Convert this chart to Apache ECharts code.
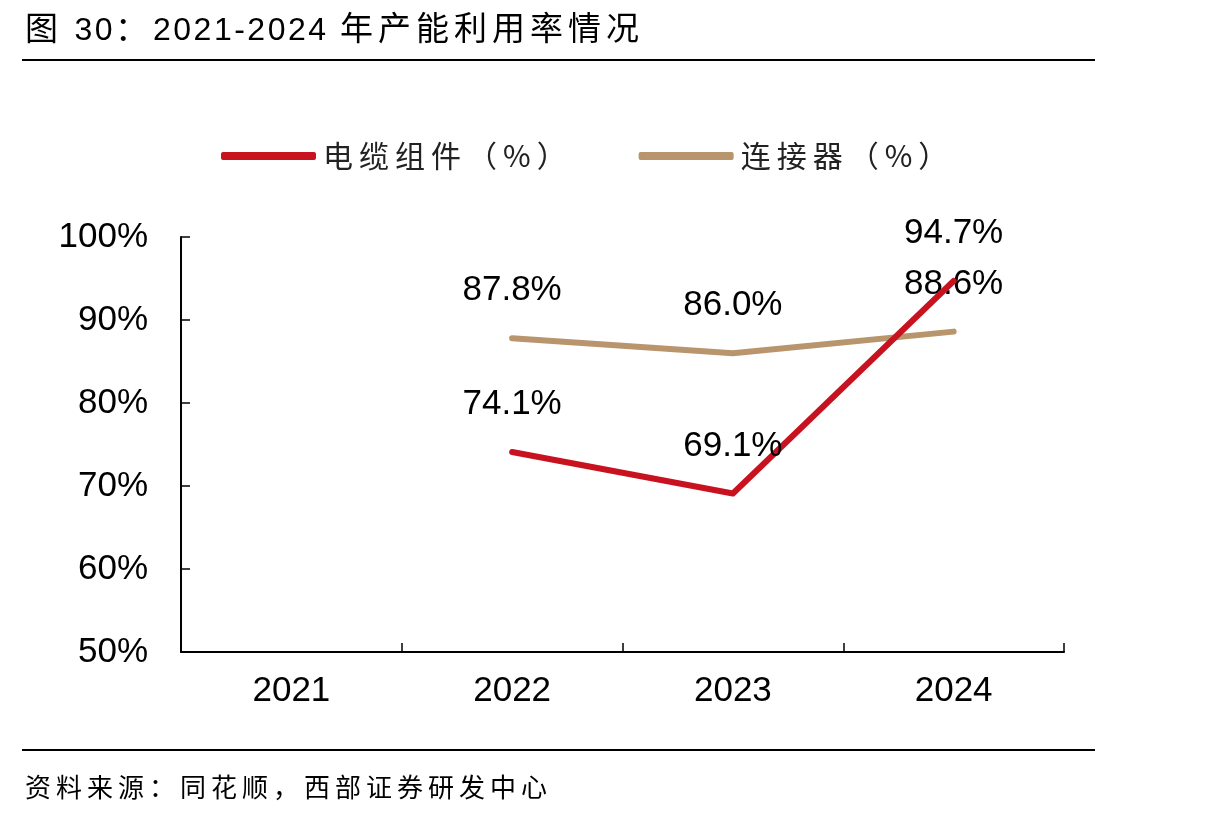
<!DOCTYPE html>
<html>
<head>
    <meta charset="utf-8">
    <title>产能利用率情况</title>
    <script src="https://cdn.jsdelivr.net/npm/echarts@6/dist/echarts.min.js"></script>
    <style type="text/css">
        html, body{
            margin: 0;
            padding: 0;
            background: #fff;
        }
        #wrap{
            position: relative;
            width: 1215px;
            height: 818px;
        }
        #chart{
            position: absolute;
            left: 0;
            top: 0;
            width: 1215px;
            height: 818px;
        }
        .caption{
            position: absolute;
            left: 25px;
            color: #000;
            font-family: "Liberation Sans", "Noto Sans CJK SC", sans-serif;
            white-space: nowrap;
        }
        .cjk{
            font-family: "Noto Sans CJK SC", sans-serif;
            font-size: 33px;
            letter-spacing: 5px;
        }
        .rule{
            position: absolute;
            left: 22px;
            width: 1073px;
            height: 2px;
            background: #000;
        }
    </style>
</head>
<body>
<div id="wrap">
    <div id="chart"></div>
    <div class="caption" style="top: 2px;font-size: 32px;letter-spacing: 2.5px;"><span class="cjk">图</span> 30<span class="cjk">：</span>2021-2024 <span class="cjk">年产能利用率情况</span></div>
    <div class="rule" style="top: 59px;"></div>
    <div class="rule" style="top: 749px;"></div>
    <div class="caption" style="top: 767px;font-size: 26px;letter-spacing: 5px;">资料来源：同花顺，西部证券研发中心</div>
</div>

<script>
    // 数据
    var years = ['2021', '2022', '2023', '2024'];
    var cableName = '电缆组件（%）';
    var connName = '连接器（%）';
    var cable = [null, 74.1, 69.1, 94.7];
    var connector = [null, 87.8, 86.0, 88.6];

    var fontFamily = '"Liberation Sans", "Noto Sans CJK SC", sans-serif';

    // 图例文字加一点字距
    var spaced = function (name) {
        return name.split('').join('\u2009');
    };

    var labelOpt = {
        show: true,
        position: 'top',
        distance: 30,
        color: '#000',
        fontSize: 35,
        fontFamily: fontFamily,
        formatter: function (p) {
            return p.value.toFixed(1) + '%';
        }
    };

    var myChart = echarts.init(document.getElementById('chart'));

    var option = {
        animation: false,
        legend: {
            left: 216,
            top: 136,
            itemWidth: 95,
            itemHeight: 8,
            itemGap: 72,
            icon: 'roundRect',
            formatter: spaced,
            textStyle: {
                fontSize: 30,
                color: '#222',
                fontFamily: '"Noto Sans CJK SC", sans-serif',
                padding: [0, 0, 0, 2]
            },
            data: [cableName, connName]
        },
        grid: {
            left: 181,
            right: 151,
            top: 237,
            bottom: 166
        },
        xAxis: {
            type: 'category',
            data: years,
            boundaryGap: true,
            axisLine: {lineStyle: {color: '#000', width: 2}},
            axisTick: {show: true, inside: true, length: 9, lineStyle: {color: '#000', width: 1.5}},
            axisLabel: {
                color: '#000',
                fontSize: 35,
                fontFamily: fontFamily,
                margin: 22
            },
            splitLine: {show: false}
        },
        yAxis: {
            type: 'value',
            min: 50,
            max: 100,
            interval: 10,
            axisLine: {show: true, lineStyle: {color: '#000', width: 2}},
            axisTick: {show: true, inside: true, length: 9, lineStyle: {color: '#000', width: 1.5}},
            axisLabel: {
                color: '#000',
                fontSize: 35,
                fontFamily: fontFamily,
                margin: 33,
                formatter: '{value}%'
            },
            splitLine: {show: false}
        },
        series: [
            {
                name: cableName,
                type: 'line',
                data: cable,
                symbol: 'circle',
                symbolSize: 0,
                itemStyle: {color: '#C8121F'},
                lineStyle: {color: '#C8121F', width: 6, cap: 'round', join: 'round'},
                label: labelOpt,
                z: 3
            },
            {
                name: connName,
                type: 'line',
                data: connector,
                symbol: 'circle',
                symbolSize: 0,
                itemStyle: {color: '#B8956C'},
                lineStyle: {color: '#B8956C', width: 6, cap: 'round', join: 'round'},
                label: labelOpt,
                z: 2
            }
        ]
    };

    option && myChart.setOption(option);
</script>
</body>
</html>
